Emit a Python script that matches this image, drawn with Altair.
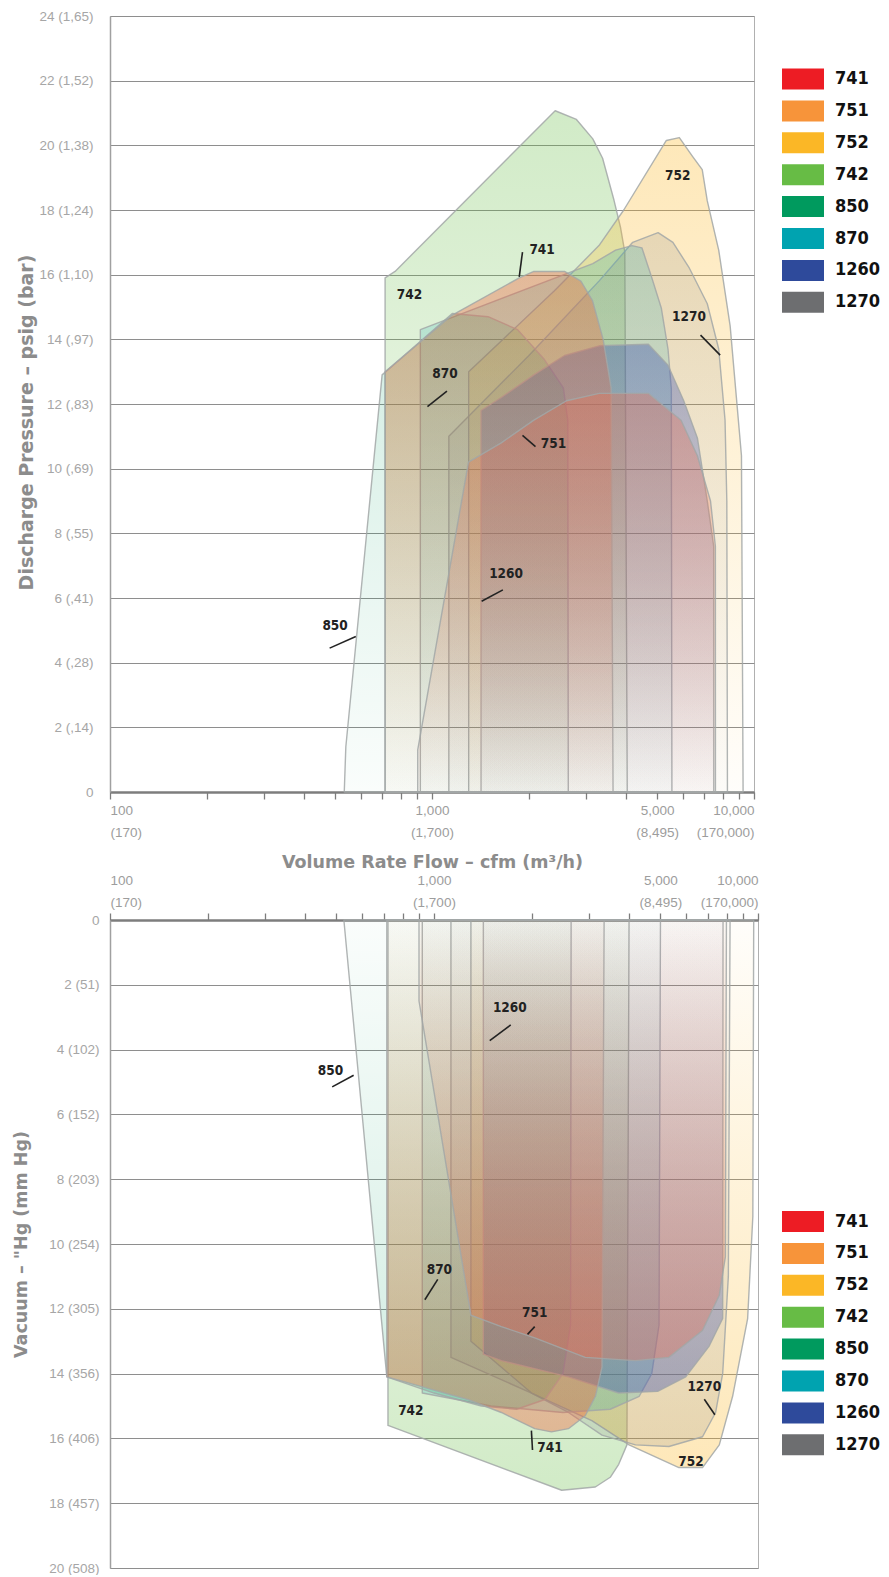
import altair as alt
import pandas as pd

SERIES = ["741", "751", "752", "742", "850", "870", "1260", "1270"]
COLORS = ["#ED1C24", "#F7943A", "#FBB726", "#67BC45", "#009A5E", "#00A3B0", "#2E4A9B", "#6D6E70"]
DRAW_ORDER = ["742", "752", "1270", "870", "850", "1260", "741", "751"]
# envelope tint (the printed envelopes are softer than the legend chips)
FILL_TINT = {"742": "#67BC45", "752": "#FBB726", "1270": "#6D6E70", "870": "#00A3B0",
             "850": "#009A5E", "1260": "#3A50B0", "741": "#F0603A", "751": "#EC6E50"}
FILL_ALPHA = {"742": 0.30, "752": 0.32, "1270": 0.16, "870": 0.20, "850": 0.18,
              "1260": 0.38, "741": 0.38, "751": 0.36}

# ---- Discharge pressure envelopes (flow cfm, pressure psig) ----
p742_cfm = [715, 715, 768, 2413, 2809, 3158, 3387, 3675, 3852, 3970, 4040]
p742_psig = [0, 15.9, 16.1, 21.07, 20.8, 20.2, 19.6, 18.3, 17.45, 16.7, 0]
p752_cfm = [1300, 1300, 2400, 3300, 3940, 5343, 5863, 6442, 6906, 7160, 7770, 8433, 9143, 9250]
p752_psig = [0, 13.0, 15.5, 16.9, 18.0, 20.15, 20.24, 19.66, 19.25, 18.28, 16.76, 14.41, 10.4, 0]
p1270_cfm = [1128, 1128, 2000, 3300, 4200, 5037, 5600, 6300, 7160, 7770, 8130, 8234, 8270]
p1270_psig = [0, 11.0, 13.5, 15.8, 17.0, 17.3, 17.0, 16.2, 15.1, 13.7, 11.5, 9.0, 0]
p870_cfm = [920, 920, 3158, 3717, 4178, 4486, 4807, 5156, 5407, 5536, 5560]
p870_psig = [0, 14.3, 16.34, 16.76, 16.9, 16.83, 15.93, 14.96, 13.7, 12.47, 0]
p850_cfm = [534, 540, 700, 1156, 1493, 1844, 2223, 2558, 2640, 2650]
p850_psig = [0, 1.4, 12.9, 14.8, 14.7, 14.3, 13.4, 12.5, 11.5, 0]
p741_cfm = [715, 715, 1156, 1866, 2072, 2580, 2900, 3150, 3400, 3600, 3650]
p741_psig = [0, 13.0, 14.75, 15.9, 16.1, 16.1, 15.8, 15.2, 14.0, 12.5, 0]
p751_cfm = [903, 903, 1298, 1641, 2072, 2617, 3307, 4698, 5936, 6671, 7328, 7587, 7590]
p751_psig = [0, 1.3, 10.2, 10.8, 11.5, 12.1, 12.33, 12.33, 11.5, 10.4, 9.0, 7.6, 0]
p1260_cfm = [1420, 1420, 1641, 2072, 2580, 3307, 4698, 5407, 6050, 6671, 7160, 7496, 7500]
p1260_psig = [0, 11.8, 12.2, 12.9, 13.5, 13.8, 13.85, 13.2, 12.1, 10.95, 9.0, 7.6, 0]

# ---- Vacuum envelopes (flow cfm, vacuum inHg) ----
v742_cfm = [721, 721, 2478, 3147, 3500, 3716, 3940, 4000]
v742_inhg = [0, 15.6, 17.6, 17.5, 17.2, 16.8, 16.2, 0]
v752_cfm = [1300, 1300, 2000, 3070, 4000, 5700, 6741, 7596, 8350, 9290, 9640, 9700]
v752_inhg = [0, 13.0, 14.6, 15.45, 16.2, 16.9, 16.9, 16.2, 14.7, 12.3, 9.15, 0]
v1270_cfm = [1128, 1128, 2000, 2600, 3300, 4187, 5309, 6741, 7400, 7780, 8100, 8200]
v1270_inhg = [0, 13.5, 14.6, 15.2, 15.9, 16.2, 16.25, 15.95, 15.2, 14.0, 11.0, 0]
v870_cfm = [920, 920, 1500, 2500, 3500, 4300, 4700, 4950, 5000]
v870_inhg = [0, 14.6, 15.0, 15.2, 15.1, 14.7, 14.0, 12.5, 0]
v850_cfm = [527, 715, 1000, 1400, 1800, 2200, 2500, 2640, 2650]
v850_inhg = [0, 14.1, 14.6, 15.0, 15.1, 14.8, 14.0, 12.5, 0]
v741_cfm = [715, 715, 1271, 1614, 2046, 2305, 2600, 2930, 3150, 3300, 3350]
v741_inhg = [0, 14.1, 14.8, 15.2, 15.7, 15.8, 15.7, 15.3, 14.7, 13.8, 0]
v751_cfm = [899, 899, 1300, 1614, 2046, 2929, 4187, 5309, 6741, 7596, 7930, 7990]
v751_inhg = [0, 2.5, 12.2, 12.55, 12.9, 13.5, 13.6, 13.5, 12.67, 11.58, 10.4, 0]
v1260_cfm = [1420, 1420, 1614, 2599, 3716, 4900, 5983, 7070, 7780, 7800]
v1260_inhg = [0, 13.4, 13.6, 14.1, 14.6, 14.55, 14.1, 13.15, 12.3, 0]

# ---- In-chart labels and leader lines ----
p_label_text = ["850", "742", "741", "752", "870", "751", "1260", "1270"]
p_label_cfm = [500, 851, 2197, 5797, 1097, 2384, 1698, 6282]
p_label_psig = [5.14, 15.38, 16.76, 19.04, 12.93, 10.75, 6.73, 14.68]
p_lead_cfm = [481, 1910, 1113, 1910, 1660, 6823]
p_lead_psig = [4.45, 16.7, 12.4, 11.03, 6.25, 14.13]
p_lead_cfm2 = [580, 1866, 968, 2096, 1426, 7850]
p_lead_psig2 = [4.81, 15.93, 11.92, 10.68, 5.90, 13.51]

v_label_text = ["1260", "850", "870", "751", "1270", "742", "741", "752"]
v_label_cfm = [1714, 479, 1039, 2046, 6827, 848, 2281, 6211]
v_label_inhg = [2.73, 4.67, 10.79, 12.12, 14.42, 15.15, 16.3, 16.73]
v_lead_cfm = [1725, 485, 1027, 2046, 6827, 1998]
v_lead_inhg = [3.24, 5.15, 11.09, 12.55, 14.79, 15.76]
v_lead_cfm2 = [1486, 565, 937, 1944, 7360, 2014]
v_lead_inhg2 = [3.72, 4.79, 11.72, 12.79, 15.27, 16.36]

# ---- Axis ticks / labels ----
psig_ticks = [0, 2, 4, 6, 8, 10, 12, 14, 16, 18, 20, 22, 24]
psig_labels = ["0", "2 (,14)", "4 (,28)", "6 (,41)", "8 (,55)", "10 (,69)", "12 (,83)",
               "14 (,97)", "16 (1,10)", "18 (1,24)", "20 (1,38)", "22 (1,52)", "24 (1,65)"]
vac_ticks = [0, 2, 4, 6, 8, 10, 12, 14, 16, 18, 20]
vac_labels = ["0", "2 (51)", "4 (102)", "6 (152)", "8 (203)", "10 (254)", "12 (305)",
              "14 (356)", "16 (406)", "18 (457)", "20 (508)"]
flow_ticks = [100, 200, 300, 400, 500, 600, 700, 800, 900, 1000, 2000, 3000, 4000,
              5000, 6000, 7000, 8000, 9000, 10000]
flow_label_values = [100, 1000, 5000, 10000]
flow_labels_cfm = ["100", "1,000", "5,000", "10,000"]
flow_labels_m3h = ["(170)", "(1,700)", "(8,495)", "(170,000)"]

P_DATA = {"742": (p742_cfm, p742_psig), "752": (p752_cfm, p752_psig), "1270": (p1270_cfm, p1270_psig),
          "870": (p870_cfm, p870_psig), "850": (p850_cfm, p850_psig), "741": (p741_cfm, p741_psig),
          "751": (p751_cfm, p751_psig), "1260": (p1260_cfm, p1260_psig)}
V_DATA = {"742": (v742_cfm, v742_inhg), "752": (v752_cfm, v752_inhg), "1270": (v1270_cfm, v1270_inhg),
          "870": (v870_cfm, v870_inhg), "850": (v850_cfm, v850_inhg), "741": (v741_cfm, v741_inhg),
          "751": (v751_cfm, v751_inhg), "1260": (v1260_cfm, v1260_inhg)}

LABEL_FONT = "Liberation Sans Narrow, DejaVu Sans Condensed, sans-serif"
AXIS_FONT = "Liberation Sans, Arial, sans-serif"
TITLE_FONT = "DejaVu Sans, sans-serif"


def rgba(h, a):
    h = h.lstrip("#")
    return f"rgba({int(h[0:2], 16)},{int(h[2:4], 16)},{int(h[4:6], 16)},{a})"


def flow_label_expr():
    expr = "''"
    for v, a, b in reversed(list(zip(flow_label_values, flow_labels_cfm, flow_labels_m3h))):
        expr = f"datum.value == {v} ? ['{a}', '{b}'] : ({expr})"
    return expr


def list_expr(labels):
    return "[" + ",".join(f"'{s}'" for s in labels) + "][round(datum.value / 2)]"


def flow_axis(orient):
    return alt.Axis(orient=orient, values=flow_ticks, labelExpr=flow_label_expr(), grid=False,
                    domainColor="#7d7d7d", domainWidth=2.5, tickColor="#7d7d7d", tickWidth=1.3,
                    tickSize=7, labelPadding=(4 if orient == "bottom" else 26),
                    labelFont=AXIS_FONT, labelFontSize=13.5,
                    labelColor="#9d9d9d", labelLineHeight=22, labelOverlap=False,
                    title=("Volume Rate Flow – cfm (m³/h)" if orient == "bottom" else None),
                    titleFont=TITLE_FONT, titleFontSize=17.5, titleFontWeight="bold",
                    titleColor="#8c8c8c", titlePadding=15)


def y_axis(ticks, labels, title, lab_pad, title_pad, title_size, title_y=None):
    kw = {}
    if title_y is not None:
        kw["titleY"] = title_y
    return alt.Axis(values=ticks, labelExpr=list_expr(labels), grid=True, gridColor="#8e8e8e",
                    gridWidth=1, domainColor="#a0a0a0", domainWidth=1.5, ticks=False,
                    labelPadding=lab_pad, minExtent=62, maxExtent=62, labelFont=AXIS_FONT,
                    labelFontSize=13.5, labelColor="#a6a6a6", title=title, titleFont=TITLE_FONT,
                    titleFontSize=title_size, titleFontWeight="bold", titleColor="#8c8c8c",
                    titlePadding=title_pad, **kw)


def legend(lx, ly):
    return alt.Legend(orient="none", legendX=lx, legendY=ly, title=None,
                      symbolType="M-2,-1H2V1H-2Z", symbolSize=441, symbolStrokeWidth=0,
                      symbolOpacity=1, labelFont=LABEL_FONT, labelFontSize=18,
                      labelFontWeight="bold", labelColor="#111111", labelOffset=21.5,
                      rowPadding=10.9, padding=0)


def panel(data, yname, xscale, yscale, xaxis, yaxis, flip, labels, leads, leg):
    layers = []
    for s in DRAW_ORDER:
        xs, ys = data[s]
        df = pd.DataFrame({"cfm": xs, yname: ys})
        c = FILL_TINT[s]
        a = FILL_ALPHA[s]
        grad = alt.LinearGradient(
            gradient="linear",
            stops=[alt.GradientStop(color=rgba(c, 0.02), offset=0),
                   alt.GradientStop(color=rgba(c, round(a * 0.55, 3)), offset=0.5),
                   alt.GradientStop(color=rgba(c, a), offset=1)],
            x1=0, x2=0, y1=(0 if flip else 1), y2=(1 if flip else 0))
        layers.append(
            alt.Chart(df).mark_area(fill=grad, stroke="#a2a7a7", strokeWidth=1.4,
                                    strokeOpacity=0.85, strokeJoin="round").encode(
                x=alt.X("cfm:Q", scale=xscale, axis=xaxis),
                y=alt.Y(f"{yname}:Q", scale=yscale, axis=yaxis)))
    ltxt, lx, ly = labels
    ldf = pd.DataFrame({"label": ltxt, "cfm": lx, yname: ly})
    layers.append(alt.Chart(ldf).mark_text(font=LABEL_FONT, fontSize=13.5, fontWeight="bold",
                                           color="#222222").encode(
        x=alt.X("cfm:Q", scale=xscale, axis=xaxis),
        y=alt.Y(f"{yname}:Q", scale=yscale, axis=yaxis), text="label:N"))
    ax, ay, ax2, ay2 = leads
    rdf = pd.DataFrame({"cfm": ax, yname: ay, "cfm2": ax2, yname + "2": ay2})
    layers.append(alt.Chart(rdf).mark_rule(color="#222222", strokeWidth=1.6).encode(
        x=alt.X("cfm:Q", scale=xscale, axis=xaxis),
        y=alt.Y(f"{yname}:Q", scale=yscale, axis=yaxis),
        x2="cfm2:Q", y2=f"{yname}2:Q"))
    gdf = pd.DataFrame({"series": SERIES})
    layers.append(alt.Chart(gdf).mark_point(filled=True, opacity=0).encode(
        color=alt.Color("series:N", scale=alt.Scale(domain=SERIES, range=COLORS), legend=leg)))
    return alt.layer(*layers)


xscale = alt.Scale(type="log", domain=[100, 10000], nice=False)

top = panel(P_DATA, "psig", xscale, alt.Scale(domain=[0, 24], nice=False),
            flow_axis("bottom"),
            y_axis(psig_ticks, psig_labels, "Discharge Pressure – psig (bar)", 17, 12, 19, 406),
            False, (p_label_text, p_label_cfm, p_label_psig),
            (p_lead_cfm, p_lead_psig, p_lead_cfm2, p_lead_psig2),
            legend(682.5, 52.5)).properties(width=644, height=776)

bottom = panel(V_DATA, "inhg", xscale, alt.Scale(domain=[0, 20], nice=False, reverse=True),
               flow_axis("top"),
               y_axis(vac_ticks, vac_labels, "Vacuum – \"Hg (mm Hg)", 11, 18, 17.5),
               True, (v_label_text, v_label_cfm, v_label_inhg),
               (v_lead_cfm, v_lead_inhg, v_lead_cfm2, v_lead_inhg2),
               legend(682.5, 291)).properties(width=648, height=648)

chart = alt.concat(top, bottom, columns=1, spacing=0, align="none").resolve_scale(
    color="independent", x="independent", y="independent"
).resolve_legend(color="independent").properties(
    padding={"left": 3, "top": 0, "right": 0, "bottom": 0}
).configure_view(stroke="#b0b0b0", strokeWidth=1)

chart.save("out.html", embed_options={"renderer": "svg", "actions": False})
